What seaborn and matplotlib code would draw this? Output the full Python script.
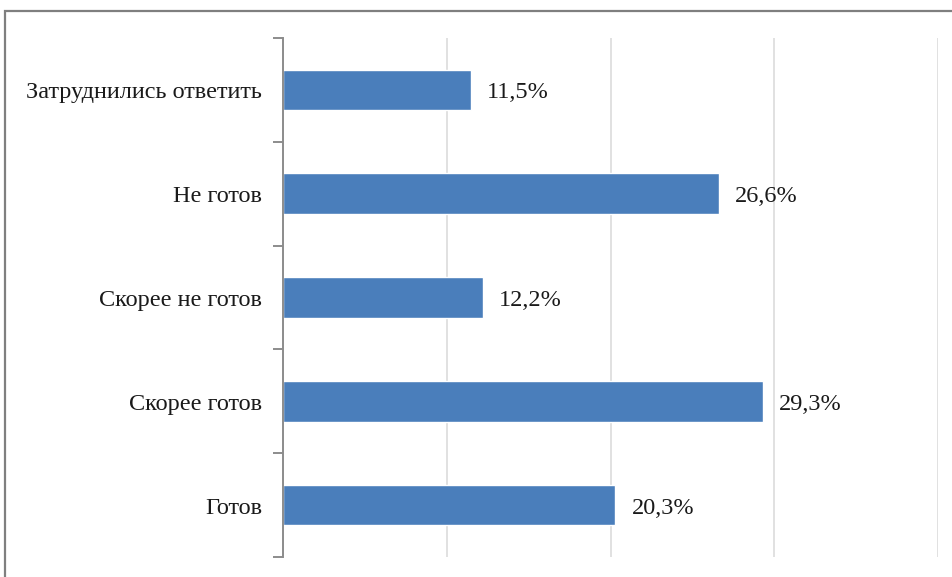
import matplotlib
matplotlib.use("Agg")
import matplotlib.pyplot as plt
from matplotlib.patches import Rectangle
from matplotlib.ticker import FixedLocator
import seaborn as sns
import pandas as pd

categories = ["Затруднились ответить", "Не готов", "Скорее не готов", "Скорее готов", "Готов"]
values = [11.5, 26.6, 12.2, 29.3, 20.3]
value_labels = ["11,5%", "26,6%", "12,2%", "29,3%", "20,3%"]

df = pd.DataFrame({"category": categories, "value": values})

sns.set_style("white")
plt.rcParams["font.family"] = ["Liberation Serif", "DejaVu Serif"]

fig = plt.figure(figsize=(9.52, 5.77), dpi=100)
ax = fig.add_axes([283 / 952, 1 - 557 / 577, (938 - 283) / 952, (557 - 38) / 577])

sns.barplot(data=df, x="value", y="category", order=categories, color="#4A7EBB",
            saturation=1, width=0.39, ax=ax)

ax.set_xlim(0, 40)
ax.set_ylim(len(categories) - 0.5, -0.5)
ax.set_xlabel("")
ax.set_ylabel("")
ax.set_xticks([0, 10, 20, 30, 40])
ax.set_xticklabels([])
ax.tick_params(axis="x", length=0)
ax.grid(axis="x", color="#D9D9D9", linewidth=1.1)
ax.set_axisbelow(True)

for side in ["top", "right", "bottom"]:
    ax.spines[side].set_visible(False)
ax.spines["left"].set_color("#8C8C8C")
ax.spines["left"].set_linewidth(1.4)

# category boundary ticks on the left spine; category names drawn as text
ax.yaxis.set_minor_locator(FixedLocator([i - 0.5 for i in range(len(categories) + 1)]))
ax.set_yticklabels([])
ax.tick_params(axis="y", which="major", left=False, length=0)
ax.tick_params(axis="y", which="minor", left=True, length=7, width=1.4,
               color="#8C8C8C", direction="out")

for i, name in enumerate(categories):
    ax.annotate(name, (0, i), xycoords=ax.get_yaxis_transform(),
                xytext=(-21, -3), textcoords="offset pixels",
                va="center", ha="right", fontsize=17.5, color="#1a1a1a")

for bar, lbl in zip(ax.patches, value_labels):
    ax.annotate(lbl, (bar.get_width(), bar.get_y() + bar.get_height() / 2),
                xytext=(16, -3), textcoords="offset pixels",
                va="center", ha="left", fontsize=17.5, color="#1a1a1a")

# outer frame of the chart area
fig.patches.append(Rectangle((5 / 952, -0.05), 1.1, 1 - 11 / 577 + 0.05,
                             transform=fig.transFigure, fill=False,
                             edgecolor="#7F7F7F", linewidth=1.6))

fig.savefig("out.png", dpi=100)
